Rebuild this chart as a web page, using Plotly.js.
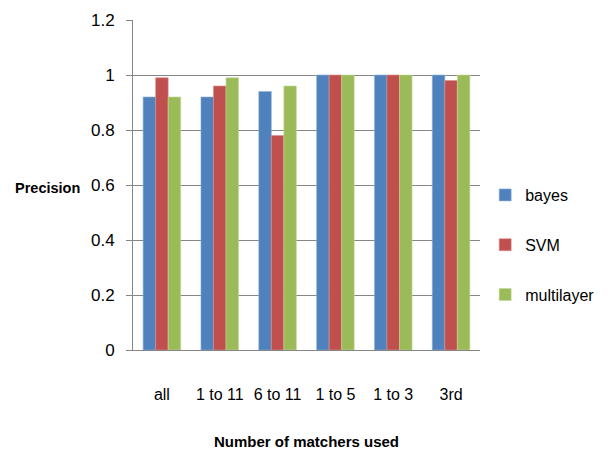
<!DOCTYPE html>
<html>
<head>
<meta charset="utf-8">
<script src="https://cdn.plot.ly/plotly-3.0.1.min.js"></script>
<style>
  html, body { margin: 0; padding: 0; background: #ffffff; }
  #chart { width: 608px; height: 464px; }
</style>
</head>
<body>
<div id="chart"></div>
<script>
// Matcher subsets on the x axis
const categories = ['all', '1 to 11', '6 to 11', '1 to 5', '1 to 3', '3rd'];

// Precision per classifier
const bayes      = [0.92, 0.92, 0.94, 1.00, 1.00, 1.00];
const svm        = [0.99, 0.96, 0.78, 1.00, 1.00, 0.98];
const multilayer = [0.92, 0.99, 0.96, 1.00, 1.00, 1.00];

const yTicks = [0, 0.2, 0.4, 0.6, 0.8, 1, 1.2];

const FAMILY = '"Liberation Sans", Arial, sans-serif';
function font(size) {
  return { family: FAMILY, size: size, color: '#000000' };
}

function series(name, values, color, edge) {
  return {
    type: 'bar',
    name: name,
    x: categories,
    y: values,
    legendgroup: name,
    marker: { color: color, line: { color: edge, width: 0.6 } },
    hoverinfo: 'x+y+name'
  };
}

const data = [
  series('bayes', bayes, '#4F81BD', '#8FB0D8'),
  series('SVM', svm, '#C0504D', '#D98E8C'),
  series('multilayer', multilayer, '#9BBB59', '#C2D69B')
];

const layout = {
  width: 608,
  height: 464,
  paper_bgcolor: '#ffffff',
  plot_bgcolor: '#ffffff',
  margin: { l: 133, r: 128, t: 20, b: 114 },
  barmode: 'group',
  bargap: 0.35,
  bargroupgap: 0,
  font: font(15),
  showlegend: true,
  legend: {
    xref: 'container',
    yref: 'container',
    x: 0.798,
    xanchor: 'left',
    y: 0.472,
    yanchor: 'middle',
    traceorder: 'grouped',
    tracegroupgap: 26,
    font: font(16),
    itemwidth: 30,
    bgcolor: 'rgba(0,0,0,0)'
  },
  xaxis: {
    type: 'category',
    showline: true,
    linecolor: '#868686',
    linewidth: 1,
    ticks: '',
    showgrid: false,
    tickangle: 0,
    tickfont: font(16),
    ticklabelstandoff: 30,
    title: {
      text: '<b>Number of matchers used</b>',
      font: font(15),
      standoff: 34
    },
    automargin: false
  },
  yaxis: {
    range: [0, 1.2],
    tickvals: yTicks,
    ticktext: yTicks.map(v => String(v)),
    showline: true,
    linecolor: '#868686',
    linewidth: 1,
    ticks: 'outside',
    ticklen: 6,
    tickcolor: '#868686',
    showgrid: true,
    gridcolor: '#868686',
    gridwidth: 1,
    zeroline: false,
    tickfont: font(17),
    ticklabelstandoff: 8,
    automargin: false
  },
  annotations: [
    {
      text: '<b>Precision</b>',
      xref: 'paper', yref: 'paper',
      x: -0.245, y: 0.49,
      xanchor: 'center', yanchor: 'middle',
      showarrow: false,
      font: font(14.5)
    }
  ]
};

Plotly.newPlot('chart', data, layout, { displayModeBar: false, staticPlot: true });
</script>
</body>
</html>
